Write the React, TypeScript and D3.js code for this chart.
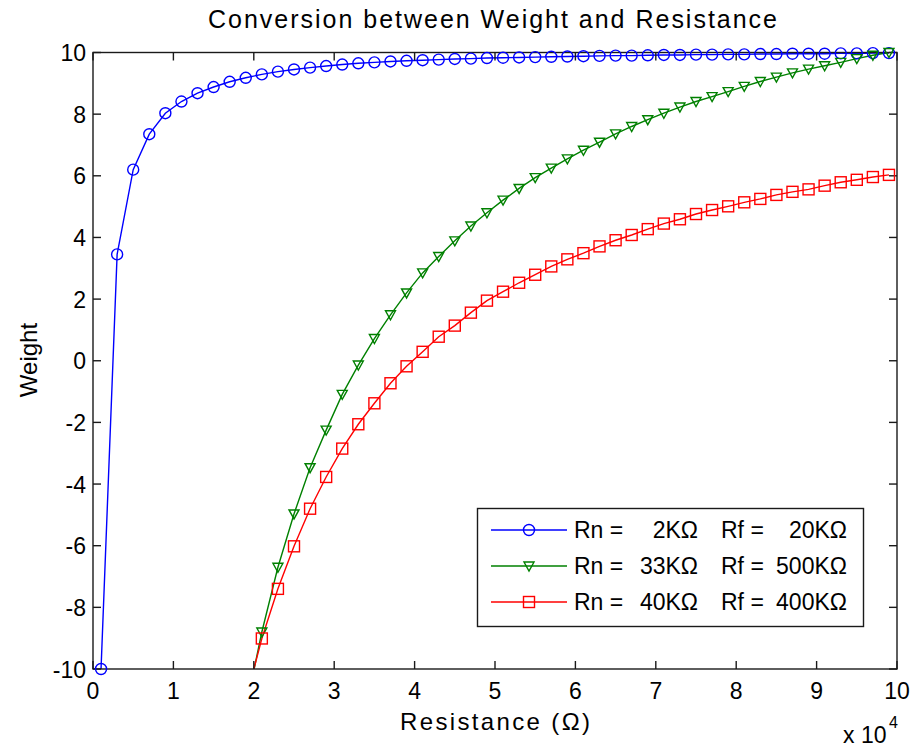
import React from "react";
import * as d3 from "d3";

// Resistance values (Ω) at which each series is sampled
const resistance = [
  1000, 3000, 5000, 7000, 9000, 11000, 13000, 15000, 17000, 19000,
  21000, 23000, 25000, 27000, 29000, 31000, 33000, 35000, 37000, 39000,
  41000, 43000, 45000, 47000, 49000, 51000, 53000, 55000, 57000, 59000,
  61000, 63000, 65000, 67000, 69000, 71000, 73000, 75000, 77000, 79000,
  81000, 83000, 85000, 87000, 89000, 91000, 93000, 95000, 97000, 99000,
];

// Rn = 2KΩ, Rf = 20KΩ
const weightBlue = [
  -10.0, 3.45, 6.2, 7.35, 8.03, 8.41, 8.68, 8.88, 9.05, 9.18,
  9.29, 9.38, 9.45, 9.51, 9.56, 9.61, 9.65, 9.68, 9.71, 9.73,
  9.75, 9.77, 9.79, 9.8, 9.82, 9.83, 9.84, 9.85, 9.86, 9.87,
  9.88, 9.89, 9.9, 9.9, 9.91, 9.92, 9.92, 9.93, 9.93, 9.94,
  9.94, 9.95, 9.95, 9.96, 9.96, 9.96, 9.97, 9.97, 9.98, 9.98,
];

// Rn = 33KΩ, Rf = 500KΩ (points left of 19000 are far below the axis)
const weightGreen: (number | null)[] = [
  null, null, null, null, null, null, null, null, null, -11.3,
  -8.8, -6.7, -4.97, -3.47, -2.25, -1.09, -0.14, 0.72, 1.49, 2.2,
  2.85, 3.38, 3.89, 4.37, 4.8, 5.21, 5.59, 5.94, 6.25, 6.55,
  6.83, 7.09, 7.36, 7.6, 7.82, 8.03, 8.23, 8.41, 8.57, 8.73,
  8.9, 9.06, 9.2, 9.34, 9.46, 9.57, 9.68, 9.8, 9.91, 10.0,
];

// Rn = 40KΩ, Rf = 400KΩ
const weightRed: (number | null)[] = [
  null, null, null, null, null, null, null, null, null, -11.0,
  -9.01, -7.4, -6.02, -4.8, -3.77, -2.85, -2.06, -1.38, -0.73, -0.18,
  0.29, 0.78, 1.14, 1.56, 1.95, 2.24, 2.53, 2.79, 3.06, 3.29,
  3.49, 3.71, 3.91, 4.08, 4.27, 4.45, 4.59, 4.76, 4.89, 5.01,
  5.14, 5.25, 5.38, 5.48, 5.56, 5.68, 5.79, 5.87, 5.96, 6.03,
];

const xTickValues = [0, 10000, 20000, 30000, 40000, 50000, 60000, 70000, 80000, 90000, 100000];
const xTickLabels = ["0", "1", "2", "3", "4", "5", "6", "7", "8", "9", "10"];
const yTickValues = [-10, -8, -6, -4, -2, 0, 2, 4, 6, 8, 10];

const seriesNames = ["Blue", "Green", "Red"];
const legendRn = ["2KΩ", "33KΩ", "40KΩ"];
const legendRf = ["20KΩ", "500KΩ", "400KΩ"];

const W = 912;
const H = 749;
const left = 93;
const right = 897;
const top = 52.5;
const bottom = 669;
const FONT = "'Liberation Sans', Arial, Helvetica, sans-serif";
const AX = "#1a1a1a";

type Pt = { x: number; y: number | null };

function Marker({ kind, cx, cy, color }: { kind: string; cx: number; cy: number; color: string }) {
  if (kind === "circle") {
    return <circle cx={cx} cy={cy} r={5.5} fill="none" stroke={color} strokeWidth={1.4} />;
  }
  if (kind === "square") {
    return <rect x={cx - 5.5} y={cy - 5.5} width={11} height={11} fill="none" stroke={color} strokeWidth={1.4} />;
  }
  // downward triangle
  const p = `${cx - 5},${cy - 4} ${cx + 5},${cy - 4} ${cx},${cy + 5}`;
  return <polygon points={p} fill="none" stroke={color} strokeWidth={1.4} />;
}

export default function App() {
  const x = d3.scaleLinear().domain([0, 100000]).range([left, right]);
  const y = d3.scaleLinear().domain([-10, 10]).range([bottom, top]);

  const series = [
    { name: seriesNames[0], values: weightBlue as (number | null)[], color: "#0000ff", marker: "circle" },
    { name: seriesNames[1], values: weightGreen, color: "#008000", marker: "triangle" },
    { name: seriesNames[2], values: weightRed, color: "#ff0000", marker: "square" },
  ];

  const line = d3
    .line<Pt>()
    .defined((d) => d.y !== null)
    .x((d) => x(d.x))
    .y((d) => y(d.y as number));

  const tickLen = 8;

  return (
    <svg
      width={W}
      height={H}
      style={{ position: "absolute", left: 0, top: 0, background: "#fff" }}
      fontFamily={FONT}
    >
      <defs>
        <clipPath id="plotClip">
          <rect x={left} y={top} width={right - left} height={bottom - top} />
        </clipPath>
      </defs>
      <rect x={0} y={0} width={W} height={H} fill="#fff" />

      {/* title */}
      <text x={492.5} y={28} textAnchor="middle" fontSize={25} fill="#000" textLength={569} lengthAdjust="spacing">
        Conversion between Weight and Resistance
      </text>

      {/* series lines */}
      <g clipPath="url(#plotClip)">
        {series.map((s) => {
          const pts: Pt[] = resistance.map((r, i) => ({ x: r, y: s.values[i] }));
          return <path key={s.name} d={line(pts) || ""} fill="none" stroke={s.color} strokeWidth={1.4} />;
        })}
      </g>

      {/* axes box */}
      <rect x={left} y={top} width={right - left} height={bottom - top} fill="none" stroke={AX} strokeWidth={1.4} />

      {/* x ticks */}
      {xTickValues.map((v, i) => (
        <g key={"xt" + v}>
          <line x1={x(v)} x2={x(v)} y1={bottom} y2={bottom - tickLen} stroke={AX} strokeWidth={1.4} />
          <line x1={x(v)} x2={x(v)} y1={top} y2={top + tickLen} stroke={AX} strokeWidth={1.4} />
          <text x={x(v)} y={bottom + 30} textAnchor="middle" fontSize={23} fill="#000">
            {xTickLabels[i]}
          </text>
        </g>
      ))}

      {/* y ticks */}
      {yTickValues.map((v) => (
        <g key={"yt" + v}>
          <line x1={left} x2={left + tickLen} y1={y(v)} y2={y(v)} stroke={AX} strokeWidth={1.4} />
          <line x1={right} x2={right - tickLen} y1={y(v)} y2={y(v)} stroke={AX} strokeWidth={1.4} />
          <text x={left - 7} y={y(v) + 8.5} textAnchor="end" fontSize={23} fill="#000">
            {String(v)}
          </text>
        </g>
      ))}

      {/* markers */}
      {series.map((s) => (
        <g key={"m" + s.name}>
          {resistance.map((r, i) => {
            const v = s.values[i];
            if (v === null || v < -10.01 || v > 10.01) return null;
            return <Marker key={i} kind={s.marker} cx={x(r)} cy={y(v)} color={s.color} />;
          })}
        </g>
      ))}

      {/* x10^4 exponent */}
      <text x={843} y={743} fontSize={23} fill="#000">
        x 10
      </text>
      <text x={889} y={728} fontSize={16} fill="#000">
        4
      </text>

      {/* axis labels */}
      <text x={495} y={730} textAnchor="middle" fontSize={24} fill="#000" textLength={190} lengthAdjust="spacing">
        Resistance (Ω)
      </text>
      <text
        transform={`translate(37,360) rotate(-90)`}
        textAnchor="middle"
        fontSize={24}
        fill="#000"
      >
        Weight
      </text>

      {/* legend */}
      <g>
        <rect x={477.5} y={508.5} width={386} height={118} fill="#fff" stroke={AX} strokeWidth={1.4} />
        {series.map((s, i) => {
          const ry = 530 + i * 36;
          return (
            <g key={"lg" + s.name}>
              <line x1={491} x2={567} y1={ry} y2={ry} stroke={s.color} strokeWidth={1.4} />
              <Marker kind={s.marker} cx={529} cy={ry} color={s.color} />
              <text x={574} y={ry + 8} fontSize={23} fill="#000">Rn =</text>
              <text x={698} y={ry + 8} fontSize={23} fill="#000" textAnchor="end">{legendRn[i]}</text>
              <text x={721} y={ry + 8} fontSize={23} fill="#000">Rf =</text>
              <text x={847} y={ry + 8} fontSize={23} fill="#000" textAnchor="end">{legendRf[i]}</text>
            </g>
          );
        })}
      </g>
    </svg>
  );
}
